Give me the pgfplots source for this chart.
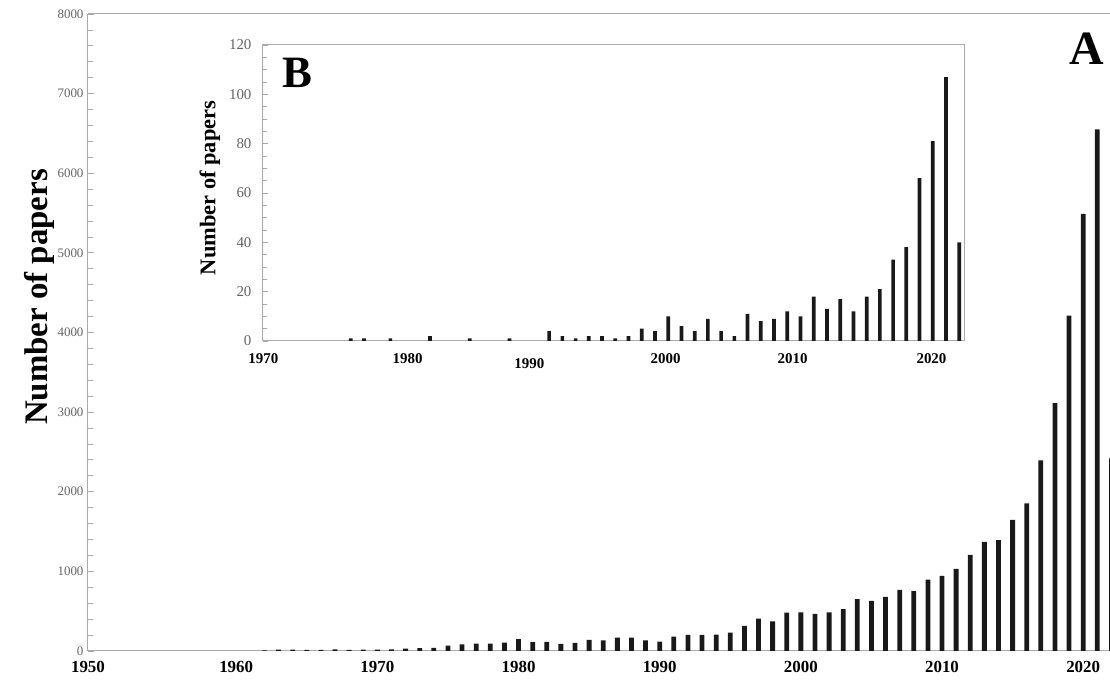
\documentclass[border=0pt]{standalone}
\usepackage{fontspec}
\setmainfont{Liberation Serif}
\usepackage{pgfplots}
\pgfplotsset{compat=1.18}
\usepackage{pgfplotstable}

\definecolor{axisgray}{RGB}{170,170,170}
\definecolor{labelgray}{RGB}{100,100,100}
\definecolor{barblack}{RGB}{25,25,25}

% all papers per year (panel A)
\pgfplotstableread{
year papers
1962 8
1963 17
1964 17
1965 12
1966 12
1967 21
1968 12
1969 17
1970 17
1971 21
1972 29
1973 34
1974 38
1975 67
1976 84
1977 92
1978 92
1979 105
1980 147
1981 110
1982 113
1983 88
1984 101
1985 139
1986 134
1987 168
1988 168
1989 134
1990 118
1991 181
1992 202
1993 202
1994 206
1995 231
1996 315
1997 407
1998 370
1999 481
2000 483
2001 466
2002 486
2003 524
2004 650
2005 628
2006 679
2007 767
2008 750
2009 897
2010 943
2011 1031
2012 1207
2013 1370
2014 1391
2015 1647
2016 1852
2017 2393
2018 3113
2019 4211
2020 5489
2021 6550
2022 2420
}\mainpapers

% subset (panel B)
\pgfplotstableread{
year papers
1976 1
1977 1
1979 1
1982 2
1985 1
1988 1
1991 4
1992 2
1993 1
1994 2
1995 2
1996 1
1997 2
1998 5
1999 4
2000 10
2001 6
2002 4
2003 9
2004 4
2005 2
2006 11
2007 8
2008 9
2009 12
2010 10
2011 18
2012 13
2013 17
2014 12
2015 18
2016 21
2017 33
2018 38
2019 66
2020 81
2021 107
2022 40
}\insetpapers

\begin{document}
\begin{tikzpicture}
\begin{axis}[
	name=main,
	scale only axis,
	width=1022bp, height=637bp,
	xmin=1949.5, xmax=2021.9,
	ymin=0, ymax=8000,
	ybar, bar width=4.8bp,
	axis x line*=bottom, axis y line*=left,
	axis line style={axisgray, line width=1bp, -},
	xtick={1949.5,1960,1970,1980,1990,2000,2010,2020},
	xticklabels={1950,1960,1970,1980,1990,2000,2010,2020},
	major x tick style={draw=none},
	ytick={0,1000,...,8000},
	minor y tick num=4,
	tick align=inside,
	y tick style={axisgray, line width=0.8bp},
	major tick length=6bp, minor tick length=5bp,
	xticklabel style={font=\fontsize{17}{17}\selectfont\bfseries, text=black, yshift=-7bp},
	yticklabel style={font=\fontsize{13}{13}\selectfont, text=labelgray, xshift=-1bp},
	/pgf/number format/assume math mode=true,
	/pgf/number format/1000 sep={},
]
\addplot[fill=barblack, draw=none] table[x=year, y=papers] {\mainpapers};
\end{axis}
\draw[axisgray, line width=1bp] (main.north west) -- (main.north east);
\node[rotate=90, font=\fontsize{33}{33}\selectfont\bfseries]
	at ([shift={(-49bp,354bp)}]main.south west) {Number of papers};
\node[font=\fontsize{48}{48}\selectfont\bfseries]
	at ([shift={(999bp,602bp)}]main.south west) {A};

\begin{axis}[
	name=inset,
	at={(175bp,310bp)}, anchor=south west,
	scale only axis,
	width=702bp, height=296bp,
	xmin=1969.37, xmax=2022.43,
	ymin=0, ymax=120,
	ybar, bar width=3.7bp,
	axis line style={axisgray, line width=1bp},
	xtick={1969.4,1980.3,1989.5,1999.8,2009.4,2019.9},
	xticklabels={1970,1980,{\raisebox{-5bp}[\height][\depth]{1990}},2000,2010,2020},
	xtick pos=bottom, ytick pos=left,
	major x tick style={draw=none},
	ytick={0,20,...,120},
	minor y tick num=3,
	tick align=inside,
	y tick style={axisgray, line width=0.8bp},
	major tick length=5bp, minor tick length=4bp,
	xticklabel style={font=\fontsize{15}{15}\selectfont\bfseries, text=black, yshift=-9bp},
	yticklabel style={font=\fontsize{15}{15}\selectfont, text=labelgray, xshift=-8bp},
	/pgf/number format/assume math mode=true,
]
\addplot[fill=barblack, draw=none] table[x=year, y=papers] {\insetpapers};
\end{axis}
\node[rotate=90, font=\fontsize{22.5}{22.5}\selectfont\bfseries]
	at ([shift={(-53bp,153bp)}]inset.south west) {Number of papers};
\node[font=\fontsize{45}{45}\selectfont\bfseries]
	at ([shift={(34bp,268bp)}]inset.south west) {B};

\pgfresetboundingbox
\path ([shift={(-88bp,-29bp)}]main.south west) rectangle ([shift={(0bp,14bp)}]main.north east);
\end{tikzpicture}
\end{document}
